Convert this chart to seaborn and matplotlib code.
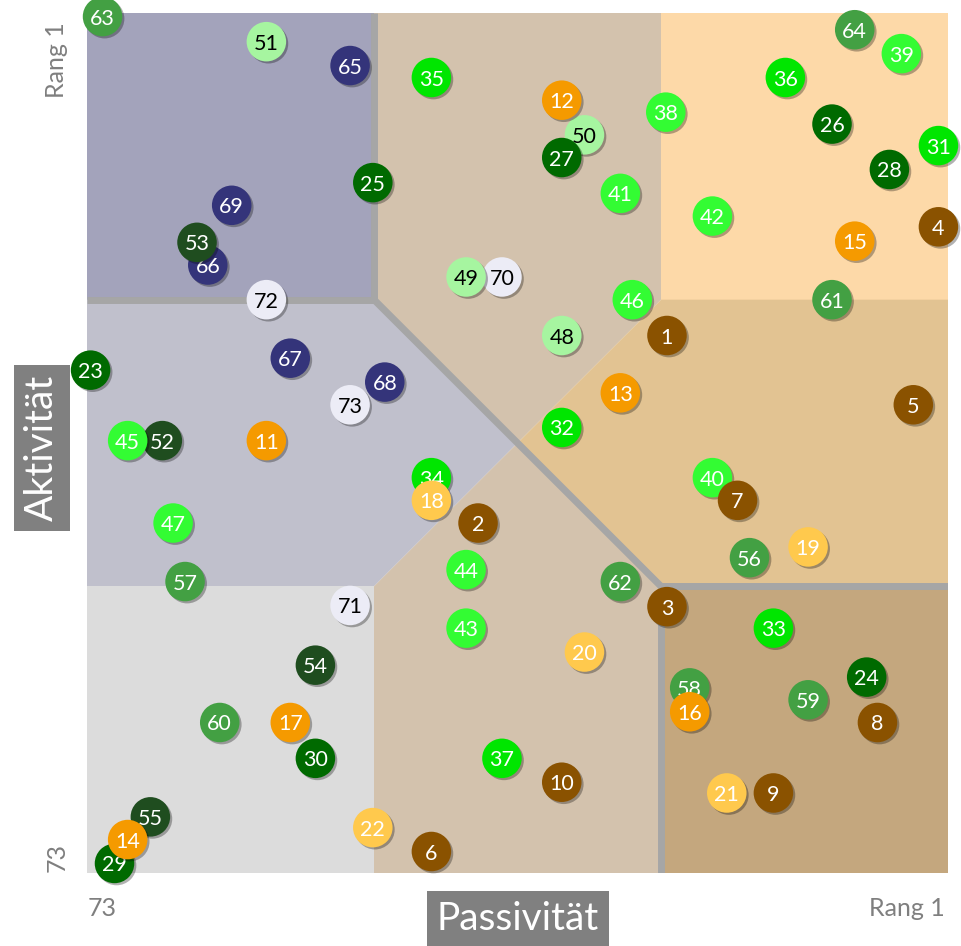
import pandas as pd
import seaborn as sns
import matplotlib.pyplot as plt
import matplotlib.patheffects as pe

# Rang in Passivität (x) und Aktivität (y), 1 = höchster Rang, 73 = niedrigster
nummer = list(range(1, 74))
passiv = [24.5, 40.3, 24.5, 1.8, 3.9, 44.2, 18.6, 6.9, 15.6, 33.3,
          58.0, 33.3, 28.4, 69.6, 8.8, 22.6, 56.0, 44.2, 12.7, 31.4,
          19.5, 49.1, 72.7, 7.8, 49.1, 10.7, 33.3, 5.9, 70.7, 53.9,
          1.8, 33.3, 15.6, 44.2, 44.2, 14.6, 38.3, 24.6, 4.9, 20.7,
          28.4, 20.7, 41.3, 41.3, 69.6, 27.4, 65.8, 33.3, 41.3, 31.4,
          58.0, 66.7, 63.8, 53.9, 67.7, 17.6, 64.8, 22.6, 12.7, 61.9,
          10.7, 28.4, 71.7, 8.8, 51.0, 62.9, 56.0, 48.1, 60.9, 38.3,
          51.0, 58.0, 51.0]
aktiv = [28.0, 43.7, 50.7, 18.9, 33.8, 71.2, 41.8, 60.4, 66.3, 65.4,
         36.8, 8.3, 32.8, 70.2, 20.1, 59.5, 60.4, 41.8, 45.7, 54.5,
         66.3, 69.2, 30.9, 56.6, 15.2, 10.3, 13.1, 14.1, 72.2, 63.4,
         12.1, 35.7, 52.5, 39.9, 6.4, 6.4, 63.4, 9.3, 4.4, 39.9,
         16.1, 18.0, 52.5, 47.6, 36.8, 25.0, 43.7, 28.0, 23.1, 11.2,
         3.4, 36.8, 20.2, 55.6, 68.3, 46.6, 48.6, 57.5, 58.5, 60.4,
         25.0, 48.6, 1.3, 2.4, 5.4, 22.1, 29.9, 31.9, 17.1, 23.1,
         50.6, 25.0, 33.8]
gruppe = (["braun"] * 10 + ["orange"] * 7 + ["gelb"] * 5 + ["dunkelgruen"] * 8
          + ["gruen"] * 7 + ["hellgruen"] * 10 + ["blassgruen"] * 4
          + ["tannengruen"] * 4 + ["mittelgruen"] * 9 + ["blau"] * 5 + ["weiss"] * 4)

farben = {
    "braun": "#8a5200", "orange": "#f59a00", "gelb": "#ffc94d",
    "dunkelgruen": "#006a00", "gruen": "#00e600", "hellgruen": "#33fc33",
    "blassgruen": "#a6f5a0", "tannengruen": "#1f4d1f", "mittelgruen": "#43a043",
    "blau": "#34347a", "weiss": "#ececf6",
}
schrift_schwarz = {"blassgruen", "weiss"}

# Grenzen der Felder (Ränge)
r_min, r_max = 1, 73
grenze_oben, grenze_unten, mitte = 25, 49, 37

df = pd.DataFrame({"nr": nummer, "passiv": passiv, "aktiv": aktiv, "gruppe": gruppe})

sns.set_style("white")
plt.rcParams["font.family"] = ["Lato", "DejaVu Sans"]

fig = plt.figure(figsize=(9.61, 9.46), dpi=100)
ax = fig.add_axes([87 / 961, 73 / 946, 861 / 961, 860 / 946])

a, b, m, lo, hi = r_min, grenze_oben, mitte, grenze_unten, r_max
felder = [
    ([hi, lo, lo, hi], [a, a, b, b], "#a3a3bb"),
    ([lo, b, b, m, lo], [a, a, b, m, b], "#d3c2ad"),
    ([b, a, a, b], [a, a, b, b], "#fdd9a8"),
    ([hi, lo, m, lo, hi], [b, b, m, lo, lo], "#c0c0cc"),
    ([b, a, a, b, m], [b, b, lo, lo, m], "#e2c392"),
    ([hi, lo, lo, hi], [lo, lo, hi, hi], "#dcdcdc"),
    ([lo, m, b, b, lo], [lo, m, lo, hi, hi], "#d3c2ad"),
    ([b, a, a, b], [lo, lo, hi, hi], "#c4a77e"),
]
for xs, ys, c in felder:
    ax.fill(xs, ys, color=c, lw=0, zorder=0)

linien = [
    ([hi, lo, lo], [b, b, a]),
    ([lo, b], [b, lo]),
    ([a, b, b], [lo, lo, hi]),
]
for xs, ys in linien:
    ax.plot(xs, ys, color="#a6a6a6", lw=5, solid_capstyle="butt",
            solid_joinstyle="miter", zorder=1)

schatten = [pe.SimplePatchShadow(offset=(1.5, -1.5), shadow_rgbFace="black", alpha=0.3),
            pe.Normal()]
for i in range(len(df) - 1, -1, -1):
    row = df.iloc[[i]]
    g = row["gruppe"].iloc[0]
    z = 10 + (len(df) - i) * 0.1
    sns.scatterplot(data=row, x="passiv", y="aktiv", color=farben[g], s=810,
                    edgecolor="none", legend=False, clip_on=False, zorder=z,
                    path_effects=schatten, ax=ax)
    ax.text(row["passiv"].iloc[0], row["aktiv"].iloc[0], str(row["nr"].iloc[0]),
            ha="center", va="center_baseline", fontsize=15.5,
            color="black" if g in schrift_schwarz else "white", zorder=z + 0.05)

ax.set_xlim(r_max, r_min)
ax.set_ylim(r_max, r_min)
ax.axis("off")

grau = "#7f7f7f"
fig.text(57 / 961, 1 - 60 / 946, "Rang 1", rotation=90, ha="center", va="center",
         fontsize=18, color=grau)
fig.text(57 / 961, 1 - 858 / 946, "73", rotation=90, ha="center", va="center",
         fontsize=18, color=grau)
fig.text(102 / 961, 1 - 908 / 946, "73", ha="center", va="center",
         fontsize=18, color=grau)
fig.text(907 / 961, 1 - 908 / 946, "Rang 1", ha="center", va="center",
         fontsize=18, color=grau)

box = dict(facecolor="#808080", edgecolor="none", pad=7)
fig.text(42 / 961, 1 - 448 / 946, "Aktivität", rotation=90, ha="center", va="center",
         fontsize=28, color="white", bbox=box)
fig.text(518 / 961, 1 - 919 / 946, "Passivität", ha="center", va="center",
         fontsize=28, color="white", bbox=box)

fig.savefig("out.png", dpi=100)
